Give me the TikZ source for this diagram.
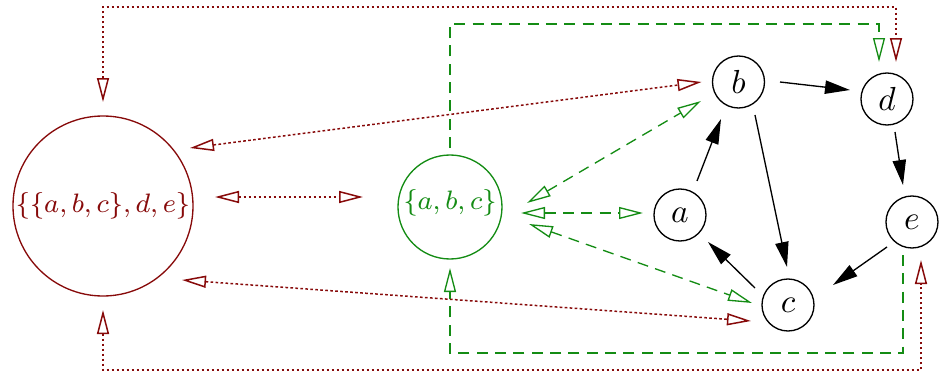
\documentclass[tikz,border=0pt]{standalone}
\usetikzlibrary{arrows.meta,calc}
\definecolor{dred}{RGB}{135,10,10}
\definecolor{dgreen}{RGB}{20,140,20}
\begin{document}
\begin{tikzpicture}[x=0.3pt,y=-0.3pt,
  blk/.style={draw, circle, minimum size=15.6pt, inner sep=0pt, font=\normalsize},
  bignode/.style={draw=dred, circle, minimum size=54pt, inner sep=0pt, text=dred, font=\footnotesize},
  grnnode/.style={draw=dgreen, circle, minimum size=31.2pt, inner sep=0pt, text=dgreen, font=\footnotesize, text height=6pt, text depth=4.4pt},
  blkarrow/.style={-{Triangle[length=7.5pt,width=4pt]}},
  otip/.tip={Triangle[open,length=7.2pt,width=3.6pt]},
  redline/.style={draw=dred, line width=0.45pt, dash pattern=on 0.8pt off 0.7pt},
  grnline/.style={draw=dgreen, dash pattern=on 3.3pt off 2.2pt},
]
\useasboundingbox (0,0) rectangle (951,376);
% nodes
\node[bignode] (B) at (103,206) {$\{\{a,b,c\},d,e\}$};
\node[grnnode] (G) at (450,207) {$\{a,b,c\}$};
\node[blk] (a) at (680,215) {$a$};
\node[blk] (b) at (738.5,82) {$b$};
\node[blk] (c) at (788,305) {$c$};
\node[blk] (d) at (887,99) {$d$};
\node[blk] (e) at (912,222) {$e$};
% black edges
\draw[blkarrow] ($(b)+(41.5,0)$) -- ($(d)+(-37,-9)$);
\draw[blkarrow] ($(d)+(8,33)$) -- ($(e)+(-9,-37)$);
\draw[blkarrow] ($(e)+(-25,25)$) -- ($(c)+(45,-20)$);
\draw[blkarrow] ($(c)+(-33,-17)$) -- ($(a)+(28,27)$);
\draw[blkarrow] ($(a)+(17,-34)$) -- ($(b)+(-17.5,37)$);
\draw[blkarrow] ($(b)+(16.5,33)$) -- ($(c)+(-1,-38)$);
% red dotted
\draw[redline, otip-otip, dred] ($(B)+(112,-9)$) -- ($(G)+(-87,-10)$);
\draw[redline, otip-otip, dred] ($(B)+(87,-58)$) -- ($(b)+(-37,0)$);
\draw[redline, otip-otip, dred] ($(B)+(79,74)$) -- ($(c)+(-37,16)$);
\draw[redline, otip-otip, dred] ($(B)+(0,-104)$) |- ($(d)+(9,-92)$) -- ($(d)+(9,-37)$);
\draw[redline, otip-otip, dred] ($(B)+(0,104)$) |- ($(e)+(9,148)$) -- ($(e)+(9,38)$);
% green dashed
\draw[grnline, otip-otip, dgreen] ($(G)+(77,-4)$) -- ($(b)+(-37.5,19)$);
\draw[grnline, otip-otip, dgreen] ($(G)+(71,6)$) -- ($(a)+(-37,-2)$);
\draw[grnline, otip-otip, dgreen] ($(G)+(79,17)$) -- ($(c)+(-36,-2)$);
\draw[grnline, -otip, dgreen] ($(G)+(0,-59)$) |- ($(d)+(-8,-75)$) -- ($(d)+(-8,-37)$);
\draw[grnline, -otip, dgreen] ($(e)+(-9,33)$) |- ($(G)+(0,146)$) -- ($(G)+(0,61)$);
\end{tikzpicture}
\end{document}
